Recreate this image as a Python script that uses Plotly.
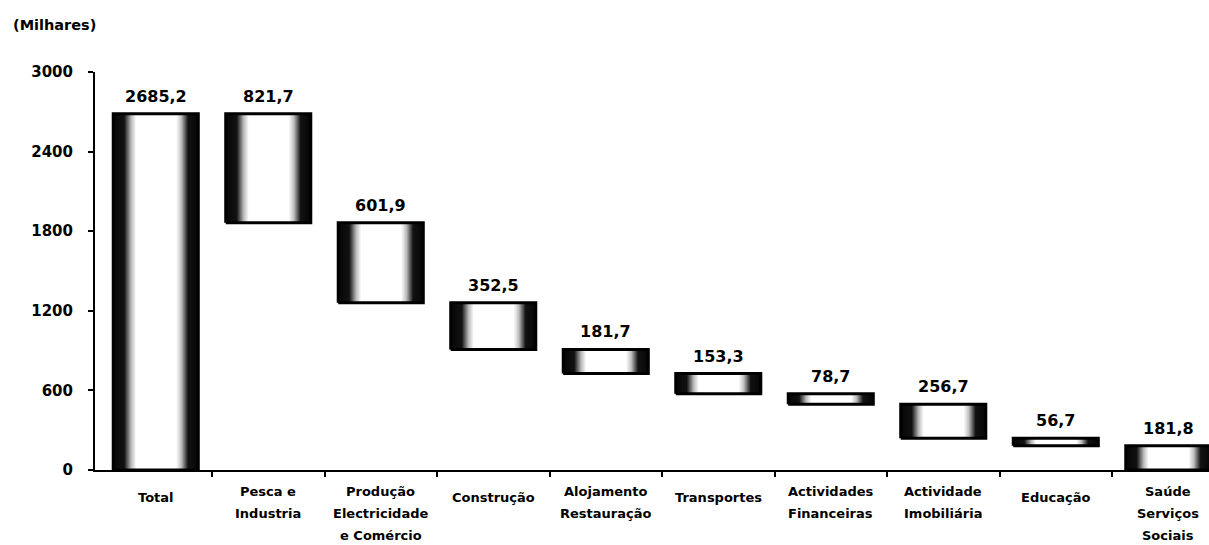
import plotly.graph_objects as go

# Employment by sector (thousands): total followed by each sector's share
categories = [
    "Total",
    "Pesca e\nIndustria",
    "Produção\nElectricidade\ne Comércio",
    "Construção",
    "Alojamento\nRestauração",
    "Transportes",
    "Actividades\nFinanceiras",
    "Actividade\nImobiliária",
    "Educação",
    "Saúde\nServiços\nSociais",
]
values = [2685.2, 821.7, 601.9, 352.5, 181.7, 153.3, 78.7, 256.7, 56.7, 181.8]
y_ticks = [0, 600, 1200, 1800, 2400, 3000]
unit_label = "(Milhares)"

FONT = "DejaVu Sans"
HALF = 0.378  # half bar width in category units

# dark edges fading to a white core, like a shaded cylinder
shade = [
    [0.0, "#050505"], [0.13, "#121212"], [0.21, "#b8b8b8"], [0.27, "#ffffff"],
    [0.74, "#ffffff"], [0.80, "#bfbfbf"], [0.88, "#121212"], [1.0, "#050505"],
]

# waterfall extents: first bar from zero, then each step hangs below the previous
bottoms, tops = [], []
level = values[0]
for i, v in enumerate(values):
    if i == 0:
        bottoms.append(0.0)
        tops.append(v)
    else:
        tops.append(level)
        bottoms.append(max(level - v, 0.0))
        level -= v

fig = go.Figure()
for i, (b, t) in enumerate(zip(bottoms, tops)):
    fig.add_trace(go.Scatter(
        x=[i - HALF, i + HALF, i + HALF, i - HALF, i - HALF],
        y=[b, b, t, t, b],
        mode="lines",
        fill="toself",
        fillgradient=dict(type="horizontal", colorscale=shade),
        line=dict(color="#000000", width=3),
        hoverinfo="skip",
        showlegend=False,
    ))

annotations = []
# value labels above each bar
for i, (v, t) in enumerate(zip(values, tops)):
    annotations.append(dict(
        x=i, y=t, xref="x", yref="y",
        text=f"{v:.1f}".replace(".", ","),
        showarrow=False, yanchor="bottom", yshift=6,
        font=dict(family=FONT, size=16, color="#000000", weight="bold"),
    ))

# category labels under the axis, one annotation per line
for i, cat in enumerate(categories):
    lines = cat.split("\n")
    for k, line in enumerate(lines):
        offset = 27 if len(lines) == 1 else 21 + 22 * k
        annotations.append(dict(
            x=i, y=0, xref="x", yref="paper",
            text=line, showarrow=False,
            yanchor="middle", yshift=-offset,
            font=dict(family=FONT, size=13, color="#000000", weight="bold"),
        ))

# unit caption in the top-left corner
annotations.append(dict(
    x=0, y=1, xref="paper", yref="paper",
    text=unit_label, showarrow=False,
    xanchor="left", yanchor="middle", xshift=-84, yshift=47,
    font=dict(family=FONT, size=14.5, color="#000000", weight="bold"),
))

fig.update_layout(
    width=1209, height=545,
    margin=dict(l=95, r=0, t=72, b=75),
    paper_bgcolor="#ffffff", plot_bgcolor="#ffffff",
    annotations=annotations,
    xaxis=dict(
        range=[-0.54, 9.362],
        showgrid=False, zeroline=False,
        showline=True, linecolor="#000000", linewidth=2,
        tickmode="array",
        tickvals=[k + 0.5 for k in range(len(categories) - 1)],
        ticktext=[""] * (len(categories) - 1),
        ticks="outside", ticklen=5, tickwidth=2, tickcolor="#000000",
    ),
    yaxis=dict(
        range=[0, 3000],
        showgrid=False, zeroline=False,
        showline=True, linecolor="#000000", linewidth=2,
        tickmode="array", tickvals=y_ticks,
        ticktext=[str(t) for t in y_ticks],
        ticks="outside", ticklen=5, tickwidth=2, tickcolor="#000000",
        ticklabelstandoff=12,
        tickfont=dict(family=FONT, size=15, color="#000000", weight="bold"),
    ),
)

fig.write_html("out.html")
